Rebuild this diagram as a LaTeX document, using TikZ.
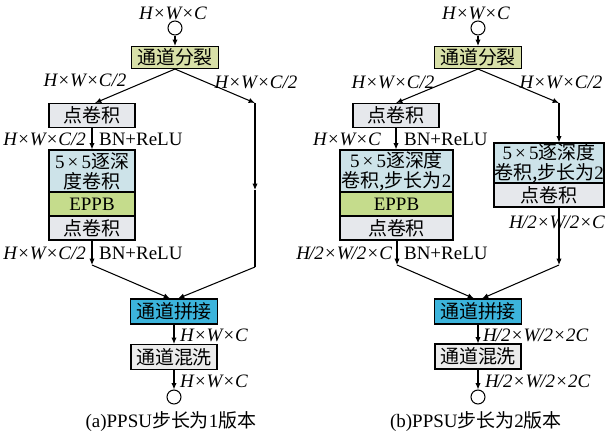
\documentclass[tikz,border=0pt]{standalone}
\usepackage{fontspec}
\setmainfont{Liberation Serif}
\newfontfamily\cjk{Noto Sans CJK SC}
\usetikzlibrary{arrows.meta, calc}
\newcommand{\zh}[1]{{\cjk #1}}

\definecolor{splitc}{RGB}{216,224,168}
\definecolor{pwc}{RGB}{230,232,236}
\definecolor{dwc}{RGB}{205,227,233}
\definecolor{eppbc}{RGB}{197,220,140}
\definecolor{catc}{RGB}{60,180,220}
\definecolor{shufc}{RGB}{236,236,236}

\begin{document}
\begin{tikzpicture}[
    x=0.02cm, y=-0.02cm,
    every node/.style={font=\fontsize{10.8}{12.5}\selectfont},
    box/.style={draw, line width=0.6pt, inner sep=0pt, align=center, minimum height=0.48cm},
    split/.style={box, fill=splitc, minimum width=1.74cm, minimum height=0.44cm},
    pw/.style={box, fill=pwc},
    dw/.style={box, fill=dwc},
    eppb/.style={box, fill=eppbc},
    cat/.style={box, fill=catc, minimum width=1.74cm, minimum height=0.5cm},
    shuf/.style={box, fill=shufc, minimum width=1.72cm, minimum height=0.5cm},
    port/.style={circle, draw, line width=0.6pt, fill=white, minimum size=0.28cm, inner sep=0pt},
    dim/.style={font=\fontsize{10.8}{12.5}\selectfont\itshape, inner sep=1pt},
    lbl/.style={inner sep=1pt},
    arr/.style={-{Latex[length=3.6pt, width=3pt]}, line width=0.6pt},
    ln/.style={line width=0.6pt},
]
\useasboundingbox (0,0) rectangle (605,437);

% ── (a) stride 1 ──
\node[dim] (tA) at (173,13) {H×W×C};
\node[port] (inA) at (175,28) {};
\node[split] (splitA) at (175,57.5) {\zh{通道分裂}};
\node[dim] (lA1) at (85,80) {H×W×C/2};
\node[dim] (lA2) at (256,82) {H×W×C/2};

\node[pw, minimum width=1.72cm] (pwA1) at (92,115.5) {\zh{点卷积}};
\node[dim, anchor=east] (lA3) at (88,139) {H×W×C/2};
\node[lbl, anchor=west] (lA4) at (97,139) {BN+ReLU};
\node[dw, minimum width=1.72cm, minimum height=0.84cm] (dwA) at (92,171) {5\,×\,5\zh{逐深}\\[-1pt]\zh{度卷积}};
\node[eppb, minimum width=1.72cm] (eppbA) at (92,204) {EPPB};
\node[pw, minimum width=1.72cm] (pwA2) at (92,228) {\zh{点卷积}};
\node[dim, anchor=east] (lA5) at (88,253) {H×W×C/2};
\node[lbl, anchor=west] (lA6) at (97,253) {BN+ReLU};

\node[cat] (catA) at (174,311.5) {\zh{通道拼接}};
\node[dim, anchor=west] (lA7) at (178,335) {H×W×C};
\node[shuf] (shufA) at (174,357) {\zh{通道混洗}};
\node[dim, anchor=west] (lA8) at (178,381) {H×W×C};
\node[port] (outA) at (174,397) {};
\node[lbl] (capA) at (171,422) {(a)PPSU\zh{步长为}1\zh{版本}};

\coordinate (raA) at (255,103);
\coordinate (rmA) at (255,190);
\coordinate (rbA) at (255,267);
\coordinate (lbA) at (92,265);

\draw[arr] (inA) -- (splitA);
\draw[arr] (splitA.south) -- ($(pwA1.north)+(3,0)$);
\draw[arr] (splitA.south) -- (raA);
\draw[arr] (raA) -- (rmA);
\draw[ln] (rmA) -- (rbA);
\draw[arr] (pwA1) -- (dwA);
\draw[arr] (pwA2) -- (lbA);
\draw[arr] (lbA) -- ($(catA.north)+(-4,0)$);
\draw[arr] (rbA) -- ($(catA.north)+(4,0)$);
\draw[arr] (catA) -- (shufA);
\draw[arr] (shufA) -- (outA);

% ── (b) stride 2 ──
\node[dim] (tB) at (476,13) {H×W×C};
\node[port] (inB) at (478,28) {};
\node[split] (splitB) at (478,57.5) {\zh{通道分裂}};
\node[dim] (lB1) at (393,82) {H×W×C/2};
\node[dim] (lB2) at (561,82) {H×W×C/2};

\node[pw, minimum width=1.72cm] (pwB1) at (396,115.5) {\zh{点卷积}};
\node[dim, anchor=east] (lB3) at (383,139) {H×W×C};
\node[lbl, anchor=west] (lB4) at (402,139) {BN+ReLU};
\node[dw, minimum width=2.26cm, minimum height=0.84cm] (dwB) at (396.5,171) {5\,×\,5\zh{逐深度}\\[-1pt]\zh{卷积,步长为}2};
\node[eppb, minimum width=2.26cm] (eppbB) at (396.5,204) {EPPB};
\node[pw, minimum width=2.26cm] (pwB2) at (396.5,228) {\zh{点卷积}};
\node[dim, anchor=east] (lB5) at (394,253) {H\kern-0.5pt/2×W\kern-0.5pt/2×C};
\node[lbl, anchor=west] (lB6) at (402,253) {BN+ReLU};

\node[dw, minimum width=2.2cm, minimum height=0.8cm] (dwBr) at (549,163) {5\,×\,5\zh{逐深度}\\[-1pt]\zh{卷积,步长为}2};
\node[pw, minimum width=2.2cm] (pwBr) at (549,195) {\zh{点卷积}};
\node[dim] (lB7) at (557,222) {H\kern-0.5pt/2×W\kern-0.5pt/2×C};

\node[cat] (catB) at (478,311.5) {\zh{通道拼接}};
\node[dim, anchor=west] (lB8) at (481,335) {H\kern-0.5pt/2×W\kern-0.5pt/2×2C};
\node[shuf] (shufB) at (478,356.5) {\zh{通道混洗}};
\node[dim, anchor=west] (lB9) at (483,381) {H\kern-0.5pt/2×W\kern-0.5pt/2×2C};
\node[port] (outB) at (478,397) {};
\node[lbl] (capB) at (476,422) {(b)PPSU\zh{步长为}2\zh{版本}};

\coordinate (raB) at (559,103);
\coordinate (rbB) at (559,265);
\coordinate (lbB) at (397,265);

\draw[arr] (inB) -- (splitB);
\draw[arr] (splitB.south) -- (pwB1.north);
\draw[arr] (splitB.south) -- (raB);
\draw[arr] (raB) -- (raB |- dwBr.north);
\draw[arr] (pwBr.south -| raB) -- (rbB);
\draw[arr] (pwB1) -- (pwB1 |- dwB.north);
\draw[arr] (pwB2.south -| lbB) -- (lbB);
\draw[arr] (lbB) -- ($(catB.north)+(-4,0)$);
\draw[arr] (rbB) -- ($(catB.north)+(4,0)$);
\draw[arr] (catB) -- (shufB);
\draw[arr] (shufB) -- (outB);

\end{tikzpicture}
\end{document}
